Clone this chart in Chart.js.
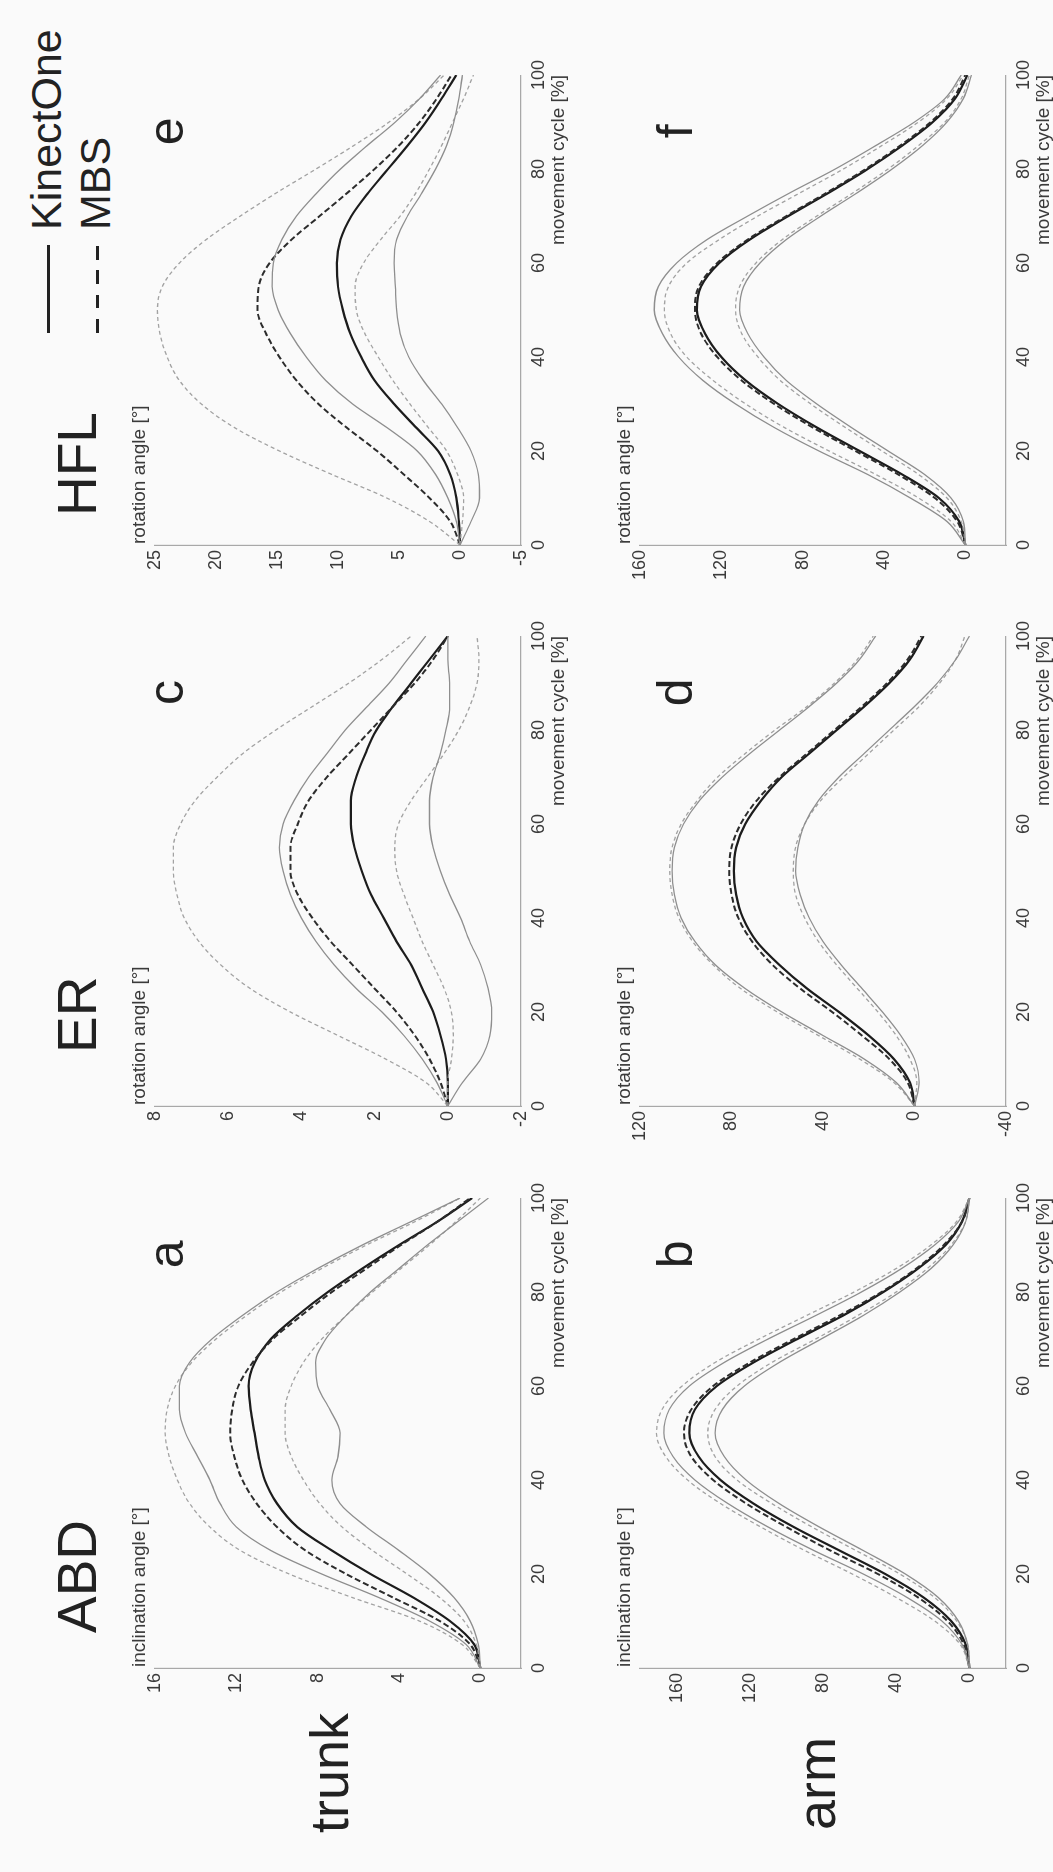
<!DOCTYPE html>
<html>
<head>
<meta charset="utf-8">
<script src="https://cdn.jsdelivr.net/npm/chart.js@4.4.0/dist/chart.umd.min.js"></script>
<style>
  html, body { margin: 0; padding: 0; background: #fafafa; overflow: hidden; }
  body { width: 1053px; height: 1872px; position: relative; }
  #fig {
    position: absolute; left: 0; top: 1872px;
    width: 1872px; height: 1053px;
    transform-origin: 0 0; transform: rotate(-90deg);
    font-family: "Liberation Sans", Arial, sans-serif; color: #222;
  }
  #fig canvas { position: absolute; }
  .txt { position: absolute; line-height: 1; white-space: nowrap; }
  .col { font-size: 55px; top: 50px; }
  .row { font-size: 54px; }
  .leg { font-size: 43px; left: 1642px; }
  .legline { position: absolute; left: 1539px; width: 88px; height: 3px; }
</style>
</head>
<body>
<div id="fig">
  <div class="txt col" style="left:239px">ABD</div>
  <div class="txt col" style="left:819px">ER</div>
  <div class="txt col" style="left:1356px">HFL</div>
  <div class="txt row" style="left:39px; top:302px">trunk</div>
  <div class="txt row" style="left:42px; top:789px">arm</div>
  <div class="legline" style="top:47px; background:#222"></div>
  <div class="legline" style="top:96px; background:repeating-linear-gradient(to right,#222 0 14px,transparent 14px 24.5px)"></div>
  <div class="txt leg" style="top:25px">KinectOne</div>
  <div class="txt leg" style="top:74px">MBS</div>
</div>
<script>
// movement cycle samples (%)
const cycle = [0, 5, 10, 15, 20, 25, 30, 35, 40, 45, 50, 55, 60, 65, 70, 75, 80, 85, 90, 95, 100];
const xTicks = [0, 20, 40, 60, 80, 100];

// a: trunk ABD
const aTicks = [0, 4, 8, 12, 16];
const aKinect   = [0, 0.3, 1.5, 3.3, 5.4, 7.3, 9.0, 10.0, 10.6, 10.9, 11.1, 11.3, 11.4, 11.1, 10.3, 9.0, 7.5, 5.8, 4.0, 2.1, 0.4];
const aKinectUp = [0, 0.7, 2.5, 5.0, 7.8, 10.3, 12.0, 12.8, 13.3, 13.9, 14.5, 14.8, 14.8, 14.3, 13.2, 11.7, 10.0, 8.0, 5.8, 3.4, 1.0];
const aKinectLo = [0, 0.1, 0.5, 1.3, 2.5, 4.0, 5.6, 6.9, 7.3, 7.0, 6.9, 7.4, 8.0, 8.1, 7.6, 6.6, 5.4, 4.0, 2.6, 1.1, -0.4];
const aMbs      = [0, 0.5, 2.0, 4.3, 6.6, 8.6, 10.0, 11.0, 11.7, 12.1, 12.3, 12.2, 11.9, 11.2, 10.2, 8.8, 7.3, 5.6, 3.9, 2.1, 0.5];
const aMbsUp    = [0, 0.9, 3.0, 6.3, 9.4, 11.8, 13.3, 14.3, 14.9, 15.3, 15.5, 15.4, 15.0, 14.2, 13.0, 11.5, 9.8, 7.8, 5.6, 3.2, 1.0];
const aMbsLo    = [0, 0.2, 0.8, 2.0, 3.6, 5.3, 6.8, 7.9, 8.7, 9.3, 9.6, 9.6, 9.3, 8.7, 7.8, 6.6, 5.3, 3.9, 2.5, 1.2, 0.0];

// b: arm ABD
const bTicks = [0, 40, 80, 120, 160];
const bKinect   = [0, 2, 10, 25, 46, 71, 96, 118, 136, 148, 153, 150, 138, 118, 94, 69, 47, 28, 13, 4, 0];
const bKinectUp = [0, 4, 15, 34, 58, 85, 110, 132, 150, 162, 167, 164, 153, 134, 110, 84, 59, 37, 19, 6, 0];
const bKinectLo = [0, 1, 6, 17, 35, 58, 82, 104, 122, 134, 139, 135, 123, 104, 81, 58, 38, 21, 9, 2, 0];
const bMbs      = [0, 3, 12, 28, 50, 76, 100, 122, 140, 152, 156, 152, 140, 120, 96, 71, 48, 29, 14, 4, 0];
const bMbsUp    = [0, 5, 19, 40, 64, 90, 114, 136, 154, 166, 171, 168, 157, 139, 115, 89, 63, 40, 21, 7, 0];
const bMbsLo    = [0, 1, 7, 19, 38, 62, 86, 108, 127, 139, 143, 139, 127, 108, 84, 61, 40, 23, 10, 2, 0];

// c: trunk ER
const cTicks = [-2, 0, 2, 4, 6, 8];
const cKinect   = [0, 0.0, 0.05, 0.2, 0.4, 0.7, 1.0, 1.4, 1.75, 2.1, 2.35, 2.55, 2.65, 2.65, 2.5, 2.25, 1.95, 1.5, 1.0, 0.5, 0.0];
const cKinectUp = [0, 0.3, 0.7, 1.2, 1.8, 2.5, 3.1, 3.6, 4.0, 4.3, 4.5, 4.6, 4.5, 4.2, 3.8, 3.3, 2.8, 2.2, 1.6, 1.1, 0.6];
const cKinectLo = [0, -0.4, -0.9, -1.15, -1.2, -1.1, -0.9, -0.6, -0.35, -0.05, 0.2, 0.4, 0.5, 0.5, 0.4, 0.2, 0.05, -0.05, -0.05, 0.0, 0.0];
const cMbs      = [0, 0.2, 0.5, 0.9, 1.4, 2.0, 2.6, 3.2, 3.7, 4.1, 4.3, 4.3, 4.1, 3.8, 3.3, 2.7, 2.1, 1.5, 0.9, 0.4, 0.0];
const cMbsUp    = [0, 0.6, 1.7, 3.0, 4.3, 5.4, 6.2, 6.8, 7.2, 7.4, 7.5, 7.5, 7.3, 6.9, 6.3, 5.6, 4.7, 3.7, 2.7, 1.8, 1.0];
const cMbsLo    = [0, 0.0, -0.1, -0.15, -0.1, 0.1, 0.4, 0.7, 0.95, 1.2, 1.4, 1.45, 1.35, 1.0, 0.55, 0.1, -0.3, -0.6, -0.8, -0.85, -0.8];

// d: arm ER
const dTicks = [-40, 0, 40, 80, 120];
const dKinect   = [0, 2, 9, 20, 33, 47, 59, 69, 75, 78, 79, 78, 74, 67, 58, 46, 34, 22, 11, 2, -4];
const dKinectUp = [0, 8, 22, 40, 58, 74, 87, 96, 102, 105, 106, 105, 101, 94, 84, 72, 59, 46, 34, 24, 17];
const dKinectLo = [0, -2, 0, 6, 14, 23, 32, 40, 46, 50, 52, 51, 48, 42, 33, 22, 11, 0, -10, -18, -24];
const dMbs      = [0, 3, 11, 23, 36, 50, 62, 71, 77, 80, 81, 80, 76, 69, 59, 47, 35, 23, 12, 3, -3];
const dMbsUp    = [0, 9, 24, 42, 60, 76, 88, 97, 103, 106, 107, 106, 102, 95, 86, 74, 61, 47, 35, 25, 18];
const dMbsLo    = [0, -1, 2, 8, 16, 25, 34, 42, 48, 52, 53, 52, 48, 41, 31, 20, 9, -2, -11, -18, -22];

// e: trunk HFL
const eTicks = [-5, 0, 5, 10, 15, 20, 25];
const eKinect   = [0, 0.1, 0.3, 0.8, 1.8, 3.6, 5.4, 7.0, 8.1, 9.0, 9.6, 10.0, 10.1, 9.8, 8.9, 7.5, 5.9, 4.3, 2.8, 1.5, 0.3];
const eKinectUp = [0, 0.3, 1.0, 2.0, 3.5, 6.0, 8.8, 11.0, 12.6, 13.9, 14.9, 15.4, 15.3, 14.6, 13.4, 11.7, 9.8, 7.6, 5.3, 3.3, 1.6];
const eKinectLo = [0, -0.9, -1.6, -1.5, -0.9, 0.2, 1.5, 3.0, 4.2, 4.9, 5.2, 5.3, 5.4, 5.2, 4.3, 3.1, 2.0, 1.1, 0.5, 0.1, -0.2];
const eMbs      = [0, 0.8, 2.5, 4.6, 6.8, 9.3, 11.6, 13.4, 14.8, 15.9, 16.6, 16.5, 15.6, 13.8, 11.5, 9.2, 7.0, 5.0, 3.3, 1.9, 0.7];
const eMbsUp    = [0, 2.5, 6.0, 10.5, 14.8, 18.5, 21.2, 23.0, 24.0, 24.6, 24.8, 24.4, 23.0, 20.8, 18.0, 15.0, 11.8, 8.7, 5.8, 3.3, 1.3];
const eMbsLo    = [0, -0.2, -0.3, 0.2, 1.1, 2.6, 4.1, 5.5, 6.7, 7.8, 8.5, 8.6, 7.9, 6.5, 4.9, 3.6, 2.5, 1.5, 0.6, -0.3, -1.1];

// f: arm HFL
const fTicks = [0, 40, 80, 120, 160];
const fKinect   = [0, 3, 13, 31, 52, 73, 92, 108, 120, 128, 132, 130, 121, 106, 87, 67, 48, 31, 16, 5, -1];
const fKinectUp = [0, 9, 27, 48, 72, 94, 113, 129, 141, 149, 153, 151, 142, 127, 107, 86, 64, 44, 25, 10, 2];
const fKinectLo = [0, 1, 7, 20, 38, 56, 73, 88, 99, 107, 111, 109, 101, 88, 71, 53, 36, 21, 9, 1, -3];
const fMbs      = [0, 4, 15, 33, 54, 75, 94, 110, 122, 130, 133, 131, 122, 107, 88, 68, 49, 32, 17, 6, 0];
const fMbsUp    = [0, 7, 23, 44, 67, 89, 108, 124, 137, 145, 148, 146, 137, 121, 102, 81, 60, 41, 23, 9, 1];
const fMbsLo    = [0, 2, 9, 23, 41, 59, 76, 91, 102, 110, 113, 111, 103, 90, 73, 55, 38, 23, 10, 2, -2];

const FONT = '"Liberation Sans", Arial, sans-serif';
Chart.defaults.font.family = FONT;

// line looks: SD bands first, means on top
const sdKinect = { borderColor: '#8e8e8e', borderWidth: 1.3, borderDash: [] };
const sdMbs    = { borderColor: '#a2a2a2', borderWidth: 1.3, borderDash: [4, 3] };
const meanMbs  = { borderColor: '#2c2c2c', borderWidth: 2, borderDash: [6, 3] };
const meanKin  = { borderColor: '#1c1c1c', borderWidth: 2.2, borderDash: [] };
const looks = [sdKinect, sdKinect, sdMbs, sdMbs, meanMbs, meanKin];

const PLOT_W = 470, PLOT_H = 366;
const PAD_TOP = 50, PAD_RIGHT = 22, Y_AXIS_W = 50, X_AXIS_H = 52;

const panels = [
  { letter: 'a', ylabel: 'inclination angle [°]', min: -2, max: 16, ticks: aTicks, left: 204, top: 155, letterBase: 28,
    series: [aKinectUp, aKinectLo, aMbsUp, aMbsLo, aMbs, aKinect] },
  { letter: 'b', ylabel: 'inclination angle [°]', min: -20, max: 180, ticks: bTicks, left: 204, top: 640, letterBase: 52,
    series: [bKinectUp, bKinectLo, bMbsUp, bMbsLo, bMbs, bKinect] },
  { letter: 'c', ylabel: 'rotation angle [°]', min: -2, max: 8, ticks: cTicks, left: 766, top: 155, letterBase: 28,
    series: [cKinectUp, cKinectLo, cMbsUp, cMbsLo, cMbs, cKinect] },
  { letter: 'd', ylabel: 'rotation angle [°]', min: -40, max: 120, ticks: dTicks, left: 766, top: 640, letterBase: 52,
    series: [dKinectUp, dKinectLo, dMbsUp, dMbsLo, dMbs, dKinect] },
  { letter: 'e', ylabel: 'rotation angle [°]', min: -5, max: 25, ticks: eTicks, left: 1327, top: 155, letterBase: 28,
    series: [eKinectUp, eKinectLo, eMbsUp, eMbsLo, eMbs, eKinect] },
  { letter: 'f', ylabel: 'rotation angle [°]', min: -20, max: 160, ticks: fTicks, left: 1327, top: 640, letterBase: 52,
    series: [fKinectUp, fKinectLo, fMbsUp, fMbsLo, fMbs, fKinect] }
];

// horizontal y label above the axis and the big panel letter
const panelText = {
  id: 'panelText',
  afterDraw(chart, args, opts) {
    const { ctx, chartArea } = chart;
    ctx.save();
    ctx.fillStyle = '#3a3a3a';
    ctx.font = '19px ' + FONT;
    ctx.textAlign = 'left';
    ctx.textBaseline = 'alphabetic';
    ctx.fillText(opts.ylabel, chartArea.left + 1, chartArea.top - 10);
    ctx.fillStyle = '#222';
    ctx.font = '50px ' + FONT;
    ctx.textAlign = 'center';
    ctx.fillText(opts.letter, chart.scales.x.getPixelForValue(88), chartArea.top + opts.base);
    ctx.restore();
  }
};

function makePanel(p) {
  const fig = document.getElementById('fig');
  const canvas = document.createElement('canvas');
  canvas.width = Y_AXIS_W + PLOT_W + PAD_RIGHT;
  canvas.height = PAD_TOP + PLOT_H + X_AXIS_H;
  canvas.style.left = (p.left - Y_AXIS_W) + 'px';
  canvas.style.top = (p.top - PAD_TOP) + 'px';
  fig.appendChild(canvas);

  const datasets = p.series.map((vals, i) => Object.assign({
    data: vals.map((y, j) => ({ x: cycle[j], y: y })),
    pointRadius: 0,
    fill: false,
    cubicInterpolationMode: 'monotone'
  }, looks[i]));

  const axisLine = { color: '#a8a8a8', width: 1.2 };
  const tickStyle = { color: '#3a3a3a', font: { size: 18 }, autoSkip: false, maxRotation: 0, minRotation: 0 };

  new Chart(canvas, {
    type: 'line',
    data: { datasets: datasets },
    options: {
      responsive: false,
      animation: false,
      layout: { padding: { top: PAD_TOP, right: PAD_RIGHT, left: 0, bottom: 0 } },
      plugins: {
        legend: { display: false },
        tooltip: { enabled: false },
        panelText: { letter: p.letter, ylabel: p.ylabel, base: p.letterBase }
      },
      scales: {
        x: {
          type: 'linear', min: 0, max: 100,
          afterBuildTicks: s => { s.ticks = xTicks.map(v => ({ value: v })); },
          afterFit: s => { s.height = X_AXIS_H; },
          grid: { display: false, drawTicks: false },
          border: axisLine,
          ticks: Object.assign({ padding: 7 }, tickStyle),
          title: { display: true, text: 'movement cycle [%]', align: 'end', color: '#3a3a3a',
                   font: { size: 19 }, padding: { top: 0, bottom: 3 } }
        },
        y: {
          type: 'linear', min: p.min, max: p.max,
          afterBuildTicks: s => { s.ticks = p.ticks.map(v => ({ value: v })); },
          afterFit: s => { s.width = Y_AXIS_W; },
          grid: { display: false, drawTicks: false },
          border: axisLine,
          ticks: Object.assign({ padding: 5 }, tickStyle)
        }
      }
    },
    plugins: [panelText]
  });
}

panels.forEach(makePanel);
</script>
</body>
</html>
